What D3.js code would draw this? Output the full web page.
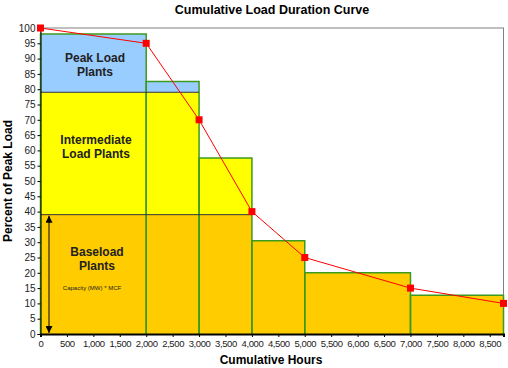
<!DOCTYPE html>
<html>
<head>
<meta charset="utf-8">
<script src="https://cdn.jsdelivr.net/npm/d3@7"></script>
<style>
  body { margin: 0; background: #fff; }
  text { font-family: "Liberation Sans", Arial, sans-serif; }
</style>
</head>
<body>
<div id="chart"></div>
<script>
// load blocks (step rectangles)
var blockStart = [0, 2000, 3000, 4000, 5000, 7000];
var blockEnd = [2000, 3000, 4000, 5000, 7000, 8760];
var blockLoad = [98, 82.5, 57.5, 30.5, 20, 12.7];
var baseTop = 39;
var interTop = 79;

// duration curve points
var curveHours = [0, 2000, 3000, 4000, 5000, 7000, 8760];
var curveLoad = [100, 95, 70, 40, 25, 15, 10];

var xTicks = [0, 500, 1000, 1500, 2000, 2500, 3000, 3500, 4000, 4500, 5000, 5500, 6000, 6500, 7000, 7500, 8000, 8500];
var yTicks = [0, 5, 10, 15, 20, 25, 30, 35, 40, 45, 50, 55, 60, 65, 70, 75, 80, 85, 90, 95, 100];

var width = 508, height = 368;
var svg = d3.select("#chart").append("svg")
    .attr("width", width)
    .attr("height", height);

var x = d3.scaleLinear().domain([0, 8760]).range([40.5, 503.5]);
var y = d3.scaleLinear().domain([0, 100]).range([334, 28]);

var blocks = blockStart.map(function(s, i) {
    return {s: s, e: blockEnd[i], h: blockLoad[i]};
});

// frame
svg.append("rect")
    .attr("x", x(0)).attr("y", y(100))
    .attr("width", x(8760) - x(0)).attr("height", y(0) - y(100))
    .attr("fill", "none").attr("stroke", "#808080");

// stacked fills
var layers = [
    {lo: 0, hi: baseTop, color: "#ffcc00"},
    {lo: baseTop, hi: interTop, color: "#ffff00"},
    {lo: interTop, hi: 100, color: "#99ccff"}
];
layers.forEach(function(l) {
    svg.append("g").selectAll("rect")
        .data(blocks.filter(function(d) { return d.h > l.lo; }))
        .enter().append("rect")
        .attr("x", function(d) { return x(d.s); })
        .attr("y", function(d) { return y(Math.min(d.h, l.hi)); })
        .attr("width", function(d) { return x(d.e) - x(d.s); })
        .attr("height", function(d) { return y(l.lo) - y(Math.min(d.h, l.hi)); })
        .attr("fill", l.color);
});

// block outlines
svg.append("g").selectAll("path")
    .data(blocks)
    .enter().append("path")
    .attr("d", function(d) {
        return "M" + x(d.s) + "," + y(0) + "V" + y(d.h) + "H" + x(d.e) + "V" + y(0);
    })
    .attr("fill", "none")
    .attr("stroke", "#3c9a1e")
    .attr("stroke-width", 1.5);

// layer boundaries
svg.append("line")
    .attr("x1", x(0)).attr("x2", x(3000))
    .attr("y1", y(interTop)).attr("y2", y(interTop))
    .attr("stroke", "#333").attr("stroke-width", 1);
svg.append("line")
    .attr("x1", x(0)).attr("x2", x(4000))
    .attr("y1", y(baseTop)).attr("y2", y(baseTop))
    .attr("stroke", "#333").attr("stroke-width", 1);

// axes
var yAxis = d3.axisLeft(y).tickValues(yTicks).tickSize(3).tickPadding(2);
var gy = svg.append("g").attr("transform", "translate(" + x(0) + ",0)").call(yAxis);
gy.select(".domain").attr("stroke", "#000");
gy.selectAll("text").attr("font-size", 10).attr("fill", "#222");

var xAxis = d3.axisBottom(x).tickValues(xTicks).tickSize(3).tickPadding(3)
    .tickFormat(d3.format(","));
var gx = svg.append("g").attr("transform", "translate(0," + y(0) + ")").call(xAxis);
gx.select(".domain").attr("stroke", "#000").attr("stroke-width", 2);
gx.selectAll("text").attr("font-size", 9.5).attr("fill", "#222").attr("letter-spacing", -0.4);

// arrow
var defs = svg.append("defs");
defs.append("marker")
    .attr("id", "arr")
    .attr("viewBox", "0 0 10 10")
    .attr("refX", 10).attr("refY", 5)
    .attr("markerWidth", 7).attr("markerHeight", 7)
    .attr("orient", "auto-start-reverse")
    .append("path").attr("d", "M0,0L10,5L0,10Z").attr("fill", "#000");
svg.append("line")
    .attr("x1", 49).attr("x2", 49)
    .attr("y1", y(baseTop) + 1).attr("y2", y(0) - 1)
    .attr("stroke", "#000").attr("stroke-width", 1)
    .attr("marker-start", "url(#arr)")
    .attr("marker-end", "url(#arr)");

// curve
var pts = curveHours.map(function(h, i) { return [h, curveLoad[i]]; });
var line = d3.line()
    .x(function(d) { return x(d[0]); })
    .y(function(d) { return y(d[1]); });
svg.append("path")
    .attr("d", line(pts))
    .attr("fill", "none")
    .attr("stroke", "#ff0000")
    .attr("stroke-width", 1);
svg.append("g").selectAll("rect")
    .data(pts)
    .enter().append("rect")
    .attr("x", function(d) { return x(d[0]) - 3.5; })
    .attr("y", function(d) { return y(d[1]) - 3.5; })
    .attr("width", 7).attr("height", 7)
    .attr("fill", "#ff0000");

// labels in blocks
function label(lines, cx, cy, size) {
    var t = svg.append("text")
        .attr("text-anchor", "middle")
        .attr("font-size", size)
        .attr("font-weight", "bold")
        .attr("fill", "#222");
    lines.forEach(function(s, i) {
        t.append("tspan").attr("x", cx).attr("y", cy + i * 13.5).text(s);
    });
}
label(["Peak Load", "Plants"], 95, 62, 12);
label(["Intermediate", "Load Plants"], 96, 144, 12);
label(["Baseload", "Plants"], 97, 256, 12);

svg.append("text")
    .attr("x", 92).attr("y", 290)
    .attr("text-anchor", "middle")
    .attr("font-size", 6)
    .attr("fill", "#222")
    .text("Capacity (MW) * MCF");

// titles
svg.append("text")
    .attr("x", 272).attr("y", 14)
    .attr("text-anchor", "middle")
    .attr("font-size", 12.5).attr("font-weight", "bold")
    .text("Cumulative Load Duration Curve");
svg.append("text")
    .attr("x", 271).attr("y", 364)
    .attr("text-anchor", "middle")
    .attr("font-size", 12).attr("font-weight", "bold")
    .text("Cumulative Hours");
svg.append("text")
    .attr("transform", "translate(12,181) rotate(-90)")
    .attr("text-anchor", "middle")
    .attr("font-size", 12).attr("font-weight", "bold")
    .text("Percent of Peak Load");
</script>
</body>
</html>
